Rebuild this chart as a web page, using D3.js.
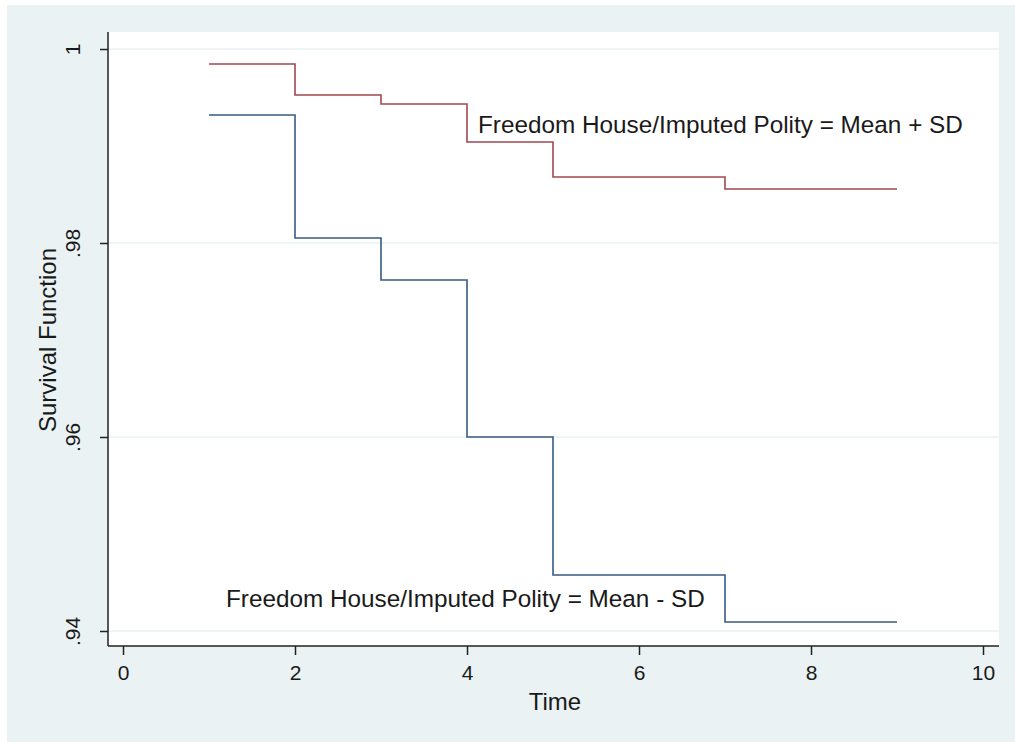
<!DOCTYPE html>
<html><head><meta charset="utf-8">
<script src="https://cdn.jsdelivr.net/npm/d3@7"></script>
<style>body{margin:0;background:#fff}svg{display:block}text{font-family:"Liberation Sans",Arial,sans-serif;fill:#1a1a1a}</style>
</head><body><svg id="c" width="1015" height="743"></svg>
<script>
const times = [1, 2, 3, 4, 5, 7, 9];
const survHigh = [0.99845, 0.99526, 0.99433, 0.99041, 0.98680, 0.98557, 0.98557];
const survLow  = [0.99320, 0.98052, 0.97619, 0.96000, 0.94577, 0.94093, 0.94093];
const xTicks = [0, 2, 4, 6, 8, 10];
const yTicks = [0.94, 0.96, 0.98, 1];
const yTickLabels = [".94", ".96", ".98", "1"];
const labelHigh = "Freedom House/Imputed Polity = Mean + SD";
const labelLow = "Freedom House/Imputed Polity = Mean - SD";

const svg = d3.select("#c");
const bg = "#eaf2f3";
svg.append("rect").attr("x",7).attr("y",5).attr("width",1008).attr("height",737).attr("fill",bg);
const P = {l:108, r:999, t:32, b:646};
svg.append("rect").attr("x",P.l).attr("y",P.t).attr("width",P.r-P.l).attr("height",P.b-P.t).attr("fill","#fff");

const x = d3.scaleLinear().domain([0,10]).range([123,983]);
const y = d3.scaleLinear().domain([0.94,1]).range([631,49]);

// gridlines
svg.append("g").selectAll("line").data(yTicks).join("line")
  .attr("x1",P.l).attr("x2",P.r).attr("y1",d=>y(d)).attr("y2",d=>y(d))
  .attr("stroke",bg).attr("stroke-width",1.5);

// axes
const yAxis = d3.axisLeft(y).tickValues(yTicks).tickSize(8).tickPadding(10).tickFormat((d,i)=>yTickLabels[i]);
const gy = svg.append("g").attr("transform",`translate(${P.l},0)`).call(yAxis);
gy.select(".domain").remove();
gy.append("line").attr("x1",0).attr("x2",0).attr("y1",P.t).attr("y2",P.b).attr("stroke","#222").attr("stroke-width",1.5);
gy.selectAll(".tick line").attr("stroke","#222").attr("stroke-width",1.5);
gy.selectAll(".tick text").attr("font-size",21).attr("fill","#1a1a1a")
  .attr("text-anchor","middle").attr("dy",null).attr("dominant-baseline","central")
  .attr("x",0).attr("y",0).attr("transform","translate(-36,0) rotate(-90)");

const xAxis = d3.axisBottom(x).tickValues(xTicks).tickSize(9).tickPadding(10).tickFormat(d3.format("d"));
const gx = svg.append("g").attr("transform",`translate(0,${P.b})`).call(xAxis);
gx.select(".domain").remove();
gx.append("line").attr("x1",P.l).attr("x2",P.r).attr("y1",0).attr("y2",0).attr("stroke","#222").attr("stroke-width",1.5);
gx.selectAll(".tick line").attr("stroke","#222").attr("stroke-width",1.5);
gx.selectAll(".tick text").attr("font-size",21).attr("fill","#1a1a1a");

// lines
const line = d3.line().x((d,i)=>x(times[i])).y(d=>y(d)).curve(d3.curveStepAfter);
svg.append("path").attr("d",line(survHigh)).attr("fill","none").attr("stroke","#a0484e").attr("stroke-width",1.6);
svg.append("path").attr("d",line(survLow)).attr("fill","none").attr("stroke","#365b82").attr("stroke-width",1.6);

// annotations
svg.append("text").attr("x",478).attr("y",133).attr("font-size",24.3).text(labelHigh);
svg.append("text").attr("x",226).attr("y",607).attr("font-size",24.3).text(labelLow);

// axis titles
svg.append("text").attr("x",555).attr("y",710).attr("text-anchor","middle").attr("font-size",24).text("Time");
svg.append("text").attr("transform","translate(56,340) rotate(-90)").attr("text-anchor","middle").attr("font-size",24).text("Survival Function");
</script></body></html>
